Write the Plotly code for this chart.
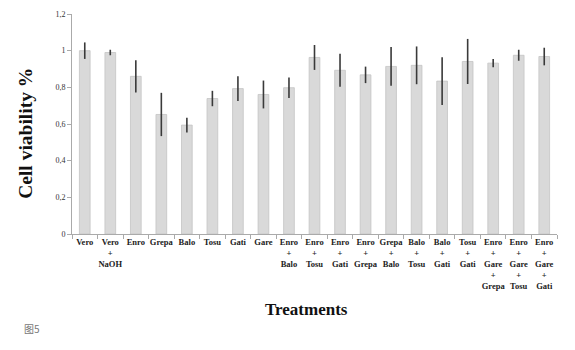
import plotly.graph_objects as go

categories = ["Vero", "Vero<br>+<br>NaOH", "Enro", "Grepa", "Balo", "Tosu", "Gati", "Gare",
              "Enro<br>+<br>Balo", "Enro<br>+<br>Tosu", "Enro<br>+<br>Gati", "Enro<br>+<br>Grepa",
              "Grepa<br>+<br>Balo", "Balo<br>+<br>Tosu", "Balo<br>+<br>Gati", "Tosu<br>+<br>Gati",
              "Enro<br>+<br>Gare<br>+<br>Grepa", "Enro<br>+<br>Gare<br>+<br>Tosu", "Enro<br>+<br>Gare<br>+<br>Gati"]
viability = [1.0, 0.99, 0.86, 0.652, 0.594, 0.739, 0.793, 0.761, 0.798, 0.963, 0.893, 0.868,
             0.914, 0.92, 0.834, 0.941, 0.932, 0.975, 0.968]
errors = [0.045, 0.015, 0.088, 0.118, 0.04, 0.042, 0.068, 0.076, 0.056, 0.068, 0.09, 0.045,
          0.106, 0.103, 0.13, 0.123, 0.022, 0.03, 0.048]
ytick_vals = [0, 0.2, 0.4, 0.6, 0.8, 1.0, 1.2]
ytick_text = ["0", "0,2", "0,4", "0,6", "0,8", "1", "1,2"]

serif = "Liberation Serif"

L, R, T, B = 72, 18, 10, 116
W, H = 575, 350
pw = W - L - R
ph = H - T - B


def px_x(x):
    return (x - L) / pw


def px_y(y):
    return (H - B - y) / ph


fig = go.Figure()
fig.add_trace(go.Bar(
    x=categories, y=viability,
    marker=dict(color="#d9d9d9", line=dict(color="#c4c4c4", width=0.8)),
    error_y=dict(type="data", array=errors, color="#3a3a3a", thickness=1.6, width=0),
    width=0.42,
))

fig.update_layout(
    width=W, height=H,
    margin=dict(l=L, r=R, t=T, b=B),
    paper_bgcolor="white", plot_bgcolor="white",
    showlegend=False,
    font=dict(family=serif, color="#222", size=8),
    xaxis=dict(
        showline=True, linecolor="#aaaaaa", linewidth=1,
        ticks="outside", tickson="boundaries", ticklen=4, tickcolor="#aaaaaa",
        tickfont=dict(family=serif, size=8.5, color="#222", weight="bold"),
        tickangle=0, showgrid=False,
    ),
    yaxis=dict(
        range=[0, 1.2], tickvals=ytick_vals, ticktext=ytick_text,
        showline=True, linecolor="#aaaaaa", linewidth=1,
        ticks="outside", ticklen=4, tickcolor="#aaaaaa",
        tickfont=dict(family=serif, size=8, color="#333"),
        showgrid=False, zeroline=False,
    ),
    annotations=[
        dict(text="<b>Cell viability %</b>", x=px_x(26), y=px_y(132), xref="paper", yref="paper",
             xanchor="center", yanchor="middle",
             showarrow=False, textangle=-90, font=dict(family=serif, size=19.5, color="#111")),
        dict(text="<b>Treatments</b>", x=px_x(306), y=px_y(311), xref="paper", yref="paper",
             xanchor="center", yanchor="middle",
             showarrow=False, font=dict(family=serif, size=17, color="#111")),
        dict(text="图5", x=px_x(22), y=px_y(330), xref="paper", yref="paper",
             xanchor="left", yanchor="middle",
             showarrow=False, font=dict(family="Noto Sans CJK SC", size=10, color="#777")),
    ],
)

fig.write_html("out.html")
